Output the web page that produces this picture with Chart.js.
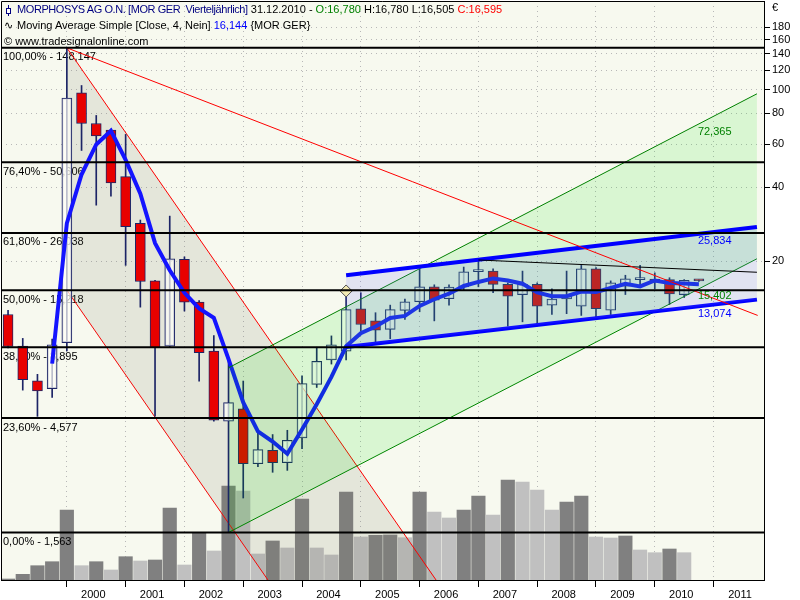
<!DOCTYPE html>
<html>
<head>
<meta charset="utf-8">
<title>MORPHOSYS AG - Vierteljährlich</title>
<script src="https://cdn.jsdelivr.net/npm/chart.js@4.4.1/dist/chart.umd.min.js"></script>
<style>
  html, body { margin: 0; padding: 0; background: #fff; }
  #wrap { position: relative; width: 800px; height: 600px; }
  #header {
    position: absolute; left: 4px; top: 1px;
    font: 11px "Liberation Sans", Arial, sans-serif; line-height: 16px;
    color: #000; white-space: pre; pointer-events: none;
  }
  .ico-candle { display: inline-block; position: relative; width: 9px; height: 9px; margin-right: 4px; vertical-align: -1px; }
  .ico-candle::before { content: ""; position: absolute; left: 4px; top: 0; width: 1px; height: 11px; background: #000080; }
  .ico-candle::after { content: ""; position: absolute; left: 2px; top: 3px; width: 3px; height: 4px; border: 1px solid #000080; background: #fff; }
  .ico-wave { display: inline-block; width: 13px; }
  .symbol { color: #000080; letter-spacing: -0.42px; }
  #euro { position: absolute; left: 772px; top: 1px; font: 11px "Liberation Sans", Arial, sans-serif; }
</style>
</head>
<body>
<div id="wrap">
  <canvas id="chart" width="800" height="600"></canvas>
  <div id="header"><span class="ico-candle"></span><span class="symbol">MORPHOSYS AG O.N. [MOR GER  Vierteljährlich]</span> 31.12.2010 - <span style="color:#008000">O:16,780</span> H:16,780 L:16,505 <span style="color:#ff0000">C:16,595</span>
<span class="ico-wave">∿</span>Moving Average Simple [Close, 4, Nein] <span style="color:#0000ff">16,144</span> {MOR GER}
© www.tradesignalonline.com</div>
  <div id="euro">€</div>
</div>
<script>
// Quarterly candles, index 0 = Q1 1999 ... index 47 = Q4 2010
const years = [2000, 2001, 2002, 2003, 2004, 2005, 2006, 2007, 2008, 2009, 2010, 2011];

const open = [12.1, 9.0, 6.5, 6.03, 9.3, 97, 72.8, 68.4, 44.2, 28.5, 16.6, 8.99,
              20.3, 13.6, 8.58, 4.45, 4.99, 2.98, 3.38, 3.01, 3.8, 6.28, 7.9, 8.58,
              12.78, 11.4, 10.52, 12.58, 13.64, 15.7, 14.04, 15.7, 18.1, 18.2, 16.06, 14.6,
              16.06, 13.2, 14.0, 13.1, 18.6, 12.6, 15.8, 16.8, 16.9, 16.8, 14.6, 16.78];
const high = [12.6, 9.67, 6.9, 9.6, 148.147, 104, 78.5, 69, 65.7, 29.4, 16.7, 30.5,
              20.8, 13.8, 9.94, 7.81, 6.48, 3.99, 3.92, 4.08, 6.8, 8.9, 9.9, 15.1,
              14.85, 12.31, 13.22, 14.0, 18.6, 16.0, 16.0, 18.9, 20.2, 18.6, 16.3, 18.2,
              16.3, 15.42, 18.2, 19.2, 18.8, 16.6, 17.5, 19.2, 17.9, 17.1, 16.8, 16.78];
const low = [8.85, 5.95, 4.65, 5.55, 8.6, 56.5, 33.8, 36.8, 19.2, 12.97, 4.66, 8.9,
             12.5, 6.47, 4.45, 1.563, 2.16, 2.9, 2.75, 2.8, 3.43, 6.1, 7.6, 7.9,
             10.35, 9.22, 9.64, 11.55, 12.42, 11.4, 13.2, 15.3, 15.7, 14.85, 10.85, 11.3,
             11.0, 12.1, 12.2, 12.0, 11.6, 12.1, 14.6, 15.6, 15.4, 13.3, 14.2, 16.505];
const close = [8.96, 6.56, 5.9, 9.1, 92.5, 72.8, 64.7, 41.7, 27.6, 16.5, 8.86, 20.4,
               13.6, 8.45, 4.49, 5.29, 2.98, 3.4, 3.01, 3.71, 6.33, 7.79, 9.1, 12.69,
               11.02, 10.45, 12.69, 13.64, 15.71, 13.85, 15.65, 18.09, 18.15, 16.06, 14.38, 16.06,
               13.09, 14.0, 14.38, 18.6, 12.8, 16.3, 16.93, 17.0, 16.4, 14.7, 16.7, 16.595];
// volume in thousand shares (estimated), no bar for the running quarter
const volume = [10, 57, 143, 183, 700, 143, 183, 100, 233, 190, 200, 720,
                150, 477, 290, 940, 890, 260, 390, 320, 810, 320, 250, 880,
                430, 447, 450, 423, 880, 680, 620, 700, 840, 650, 1000, 980,
                900, 700, 780, 840, 430, 420, 440, 300, 273, 310, 273];

const priceTicks = [20, 40, 60, 80, 100, 120, 140, 160, 180];

// Fibonacci retracement 1,563 -> 148,147
const fibPercents = ['100,00%', '76,40%', '61,80%', '50,00%', '38,20%', '23,60%', '0,00%'];
const fibLevels = [148.147, 50.606, 26.038, 15.218, 8.895, 4.577, 1.563];

// drawing tools: anchor points [quarter index, price]
const downLineSteep = [[4, 148.147], [29.12, 1.0]];
const downLineSteepParallel = [[4, 15.22], [29.12, 0.1027]];
const downLineFlat = [[4, 148.147], [51, 12.0]];
const greenUpper = [[15, 7.34], [50.95, 96.2]];
const greenLower = [[15, 1.563], [50.95, 20.43]];
const blueUpper = [[23, 17.5], [50.95, 27.54]];
const blueLower = [[23, 8.93], [50.95, 13.92]];
const blackLine = [[32, 20.2], [50.95, 18.0]];
const anchorPoint = [[23, 15.1]];

// values printed next to the channel lines at the last bar
const greenChannelValues = [72.365, 15.402];
const blueChannelValues = [25.834, 13.074];

const navy = '#1c2466';
const idx = close.map((_, i) => i);
const fmt = v => v.toFixed(3).replace('.', ',');

function sma(values, n) {
    return values.map((v, i) => {
        if (i < n - 1) return null;
        let s = 0;
        for (let k = i - n + 1; k <= i; k++) s += values[k];
        return s / n;
    });
}
const ma4 = sma(close, 4);

const pts = arr => arr.map(([x, y]) => ({x, y}));

function trendLine(label, anchors, color, width, order, fill, fillColor) {
    return {
        type: 'line', label: label, data: pts(anchors),
        borderColor: color, borderWidth: width, pointRadius: 0,
        tension: 0, fill: fill || false, backgroundColor: fillColor || 'transparent',
        order: order
    };
}

// x-axis: dotted boundaries at the start of each year, labels inside the year
const boundaryTicks = years.map(y => (y - 1999) * 4);
const labelTicks = years.map(y => (y - 1999) * 4 + 1.8);
const isBoundary = v => boundaryTicks.some(b => Math.abs(b - v) < 1e-6);

const datasets = [
    {
        type: 'bar', label: 'Volume', yAxisID: 'yVol',
        data: volume.map((v, i) => ({x: i, y: v})),
        backgroundColor: c => (c.dataIndex > 0 && volume[c.dataIndex] < volume[c.dataIndex - 1]) ? '#c0c0c0' : '#808080',
        grouped: false, categoryPercentage: 1, barPercentage: 1, maxBarThickness: 13.5,
        order: 10
    },
    trendLine('Trend down', downLineSteep, '#ff0000', 1, 9, '+1', 'rgba(120,120,100,0.15)'),
    trendLine('Trend down parallel', downLineSteepParallel, '#ff0000', 1, 9),
    {
        type: 'bar', label: 'Range',
        data: idx.map(i => ({x: i, y: [low[i], high[i]]})),
        backgroundColor: navy,
        grouped: false, categoryPercentage: 1, barPercentage: 1, maxBarThickness: 1,
        order: 8
    },
    {
        type: 'bar', label: 'Body',
        data: idx.map(i => ({x: i, y: [open[i], close[i]]})),
        backgroundColor: c => close[c.dataIndex] < open[c.dataIndex] ? '#e80000' : 'rgba(255,255,248,0.7)',
        borderColor: navy, borderWidth: 1, borderSkipped: false, minBarLength: 2,
        grouped: false, categoryPercentage: 1, barPercentage: 1, maxBarThickness: 10,
        order: 7
    },
    {
        type: 'line', label: 'Moving Average Simple',
        data: idx.map(i => ({x: i, y: ma4[i]})),
        borderColor: '#1414ff', borderWidth: 4, pointRadius: 0, tension: 0,
        order: 6
    },
    trendLine('Channel green upper', greenUpper, '#008000', 1, 5, '+1', 'rgba(0,230,0,0.12)'),
    trendLine('Channel green lower', greenLower, '#008000', 1, 5),
    trendLine('Channel blue upper', blueUpper, '#0000ff', 4, 4, '+1', 'rgba(100,100,255,0.15)'),
    trendLine('Channel blue lower', blueLower, '#0000ff', 4, 4),
    trendLine('Trend flat', downLineFlat, '#ff0000', 1, 3),
    trendLine('Resistance', blackLine, '#000000', 1, 3),
    {
        type: 'line', label: 'Anchor', data: pts(anchorPoint), showLine: false,
        pointStyle: 'rectRot', pointRadius: 6, pointBackgroundColor: '#f2eab4',
        pointBorderColor: '#505050', pointBorderWidth: 1, order: 2
    }
];
fibLevels.forEach((lvl, k) => {
    datasets.push(trendLine('Fibo ' + fibPercents[k], [[-1, lvl], [53, lvl]], '#000000', 2, 1));
});

const font = {family: '"Liberation Sans", Arial, sans-serif', size: 11};

// no automatic label padding: the plot runs right up to the frame
function noPadding(s) {
    s.paddingTop = 0;
    s.paddingBottom = 0;
    s.paddingLeft = 0;
    s.paddingRight = 0;
}

const overlayPlugin = {
    id: 'overlay',
    beforeDraw(chart) {
        const {ctx, chartArea: a} = chart;
        ctx.save();
        ctx.fillStyle = '#f7f9ef';
        ctx.fillRect(a.left, a.top, a.right - a.left, a.bottom - a.top);
        ctx.restore();
    },
    // Fibonacci labels sit on top of the volume bars but under the candles
    afterDatasetDraw(chart, args) {
        if (args.index !== 0) return;
        const {ctx, chartArea: a, scales: {y}} = chart;
        ctx.save();
        ctx.font = '11px "Liberation Sans", Arial, sans-serif';
        ctx.textBaseline = 'top';
        ctx.fillStyle = '#000';
        fibLevels.forEach((lvl, k) => {
            ctx.fillText(fibPercents[k] + ' - ' + fmt(lvl), a.left + 2, y.getPixelForValue(lvl) + 4);
        });
        ctx.restore();
    },
    afterDatasetsDraw(chart) {
        const {ctx, chartArea: a, scales: {x, y}} = chart;
        const last = close.length - 1;
        ctx.save();
        ctx.font = '11px "Liberation Sans", Arial, sans-serif';
        ctx.textBaseline = 'top';
        ctx.fillStyle = '#008000';
        greenChannelValues.forEach(v => ctx.fillText(fmt(v), x.getPixelForValue(last) - 1, y.getPixelForValue(v) + 2));
        ctx.fillStyle = '#0000ff';
        blueChannelValues.forEach(v => ctx.fillText(fmt(v), x.getPixelForValue(last) - 1, y.getPixelForValue(v) + 2));
        ctx.strokeStyle = '#000';
        ctx.lineWidth = 1;
        ctx.beginPath();
        ctx.moveTo(a.left + 0.5, a.bottom);
        ctx.lineTo(a.left + 0.5, a.top + 0.5);
        ctx.lineTo(a.right, a.top + 0.5);
        ctx.stroke();
        ctx.restore();
    }
};

new Chart(document.getElementById('chart'), {
    type: 'bar',
    data: {datasets: datasets},
    options: {
        responsive: false,
        animation: false,
        events: [],
        layout: {autoPadding: false, padding: {left: 1, top: 1, right: 0, bottom: 0}},
        plugins: {
            legend: {display: false},
            tooltip: {enabled: false}
        },
        scales: {
            x: {
                type: 'linear', min: -0.48, max: 51.43, offset: false,
                afterBuildTicks: s => {
                    s.ticks = boundaryTicks.concat(labelTicks).sort((a, b) => a - b).map(v => ({value: v}));
                },
                afterFit: s => { s.height = 20; noPadding(s); },
                ticks: {
                    autoSkip: false, maxRotation: 0, padding: 1, color: '#000', font: font,
                    callback: v => {
                        if (isBoundary(v)) return '';
                        const k = labelTicks.findIndex(t => Math.abs(t - v) < 1e-6);
                        return k >= 0 ? String(years[k]) : '';
                    }
                },
                grid: {
                    offset: false,
                    color: c => (c.tick && isBoundary(c.tick.value)) ? '#b8b8b8' : 'rgba(0,0,0,0)',
                    tickColor: c => (c.tick && isBoundary(c.tick.value)) ? '#000' : 'rgba(0,0,0,0)',
                    tickLength: 7, lineWidth: 1
                },
                border: {display: true, color: '#000', width: 1, dash: [1, 4]}
            },
            y: {
                type: 'logarithmic', position: 'right', min: 1, max: 230,
                afterBuildTicks: s => { s.ticks = priceTicks.map(v => ({value: v})); },
                afterFit: s => { s.width = 36; noPadding(s); },
                ticks: {autoSkip: false, padding: 2, color: '#000', font: font, callback: v => String(v)},
                grid: {color: '#b8b8b8', tickColor: '#000', tickLength: 6, lineWidth: 1},
                border: {display: true, color: '#000', width: 1, dash: [1, 4]}
            },
            yVol: {
                type: 'linear', display: false, min: 0, max: 5790
            }
        }
    },
    plugins: [overlayPlugin]
});
</script>
</body>
</html>
